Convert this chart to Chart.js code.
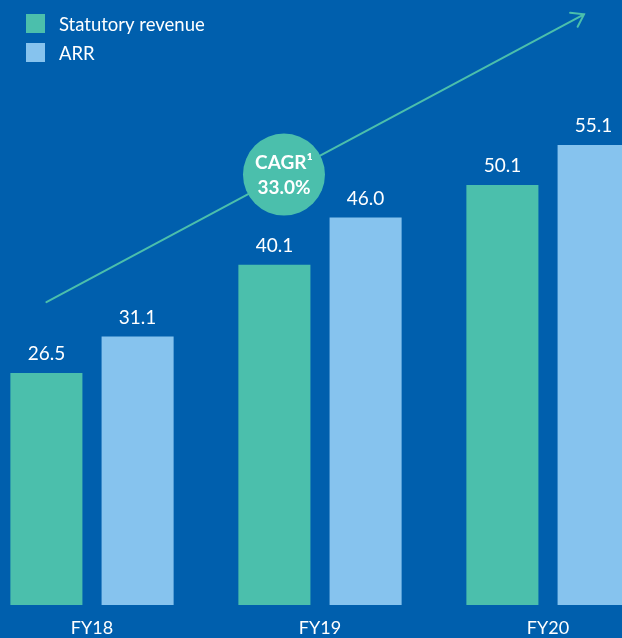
<!DOCTYPE html>
<html>
<head>
<meta charset="utf-8">
<script src="https://cdn.jsdelivr.net/npm/chart.js@4"></script>
<style>
  html, body { margin: 0; padding: 0; background: #005fad; overflow: hidden; }
  body { width: 622px; height: 638px; position: relative; }
  #wrap { position: absolute; left: -22px; top: 0; width: 684px; height: 638px; }
</style>
</head>
<body>
<div id="wrap"><canvas id="grafico"></canvas></div>
<script>
const categorias = ['FY18', 'FY19', 'FY20'];
const receita = [26.5, 40.1, 50.1];   // Statutory revenue
const arr = [31.1, 46.0, 55.1];       // ARR
const cagrTexto = ['CAGR\u00B9', '33.0%'];

const VERDE = '#4bbfac';
const AZUL_CLARO = '#86c3ee';
const BRANCO = '#ffffff';
const FONTE = 'Lato, "Open Sans", sans-serif';

// seta e circulo em coordenadas de dados (indice da categoria, valor)
const setaInicio = [-0.2, 35.4];
const setaFim = [2.158, 71.5];
const circulo = [0.842, 51.4];

const rotulosPlugin = {
  id: 'rotulos',
  afterDatasetsDraw(chart) {
    const c = chart.ctx;
    c.save();
    c.fillStyle = BRANCO;
    c.font = '19px ' + FONTE;
    c.textAlign = 'center';
    c.textBaseline = 'middle';
    chart.data.datasets.forEach((ds, i) => {
      chart.getDatasetMeta(i).data.forEach((bar, j) => {
        c.fillText(ds.data[j].toFixed(1), bar.x, bar.y - 19);
      });
    });
    c.restore();
  }
};

const setaPlugin = {
  id: 'seta',
  afterDraw(chart) {
    const c = chart.ctx;
    const x = chart.scales.x, y = chart.scales.y;
    const x0 = x.getPixelForValue(setaInicio[0]), y0 = y.getPixelForValue(setaInicio[1]);
    const x1 = x.getPixelForValue(setaFim[0]), y1 = y.getPixelForValue(setaFim[1]);
    c.save();
    c.strokeStyle = VERDE;
    c.lineWidth = 2;
    c.lineCap = 'round';
    c.beginPath();
    c.moveTo(x0, y0);
    c.lineTo(x1, y1);
    const ang = Math.atan2(y1 - y0, x1 - x0);
    const len = 14, abre = Math.PI / 5.2;
    c.moveTo(x1 - len * Math.cos(ang - abre), y1 - len * Math.sin(ang - abre));
    c.lineTo(x1, y1);
    c.lineTo(x1 - len * Math.cos(ang + abre), y1 - len * Math.sin(ang + abre));
    c.stroke();

    // circulo CAGR
    const cx = x.getPixelForValue(circulo[0]), cy = y.getPixelForValue(circulo[1]);
    c.fillStyle = VERDE;
    c.beginPath();
    c.arc(cx, cy, 41, 0, Math.PI * 2);
    c.fill();
    c.fillStyle = BRANCO;
    c.font = 'bold 19px ' + FONTE;
    c.textAlign = 'center';
    c.textBaseline = 'middle';
    c.fillText(cagrTexto[0], cx, cy - 12);
    c.fillText(cagrTexto[1], cx, cy + 13);

    // legenda
    c.textAlign = 'left';
    c.font = '18.5px ' + FONTE;
    chart.data.datasets.forEach((ds, i) => {
      const ly = 14 + i * 29;
      c.fillStyle = ds.backgroundColor;
      c.fillRect(48, ly, 19, 19);
      c.fillStyle = BRANCO;
      c.fillText(ds.label, 81, ly + 11);
    });
    c.restore();
  }
};

const ctx = document.getElementById('grafico');
let grafico = new Chart(ctx, {
  type: 'bar',
  data: {
    labels: categorias,
    datasets: [{
      label: 'Statutory revenue',
      data: receita,
      backgroundColor: VERDE,
      base: -2.6,
      categoryPercentage: 0.8,
      barPercentage: 0.79
    }, {
      label: 'ARR',
      data: arr,
      backgroundColor: AZUL_CLARO,
      base: -2.6,
      categoryPercentage: 0.8,
      barPercentage: 0.79
    }]
  },
  options: {
    responsive: true,
    maintainAspectRatio: false,
    animation: false,
    layout: { padding: 0 },
    plugins: {
      legend: { display: false },
      tooltip: { enabled: false }
    },
    scales: {
      x: {
        grid: { display: false, drawTicks: false },
        border: { display: false },
        ticks: {
          color: BRANCO,
          padding: 12,
          font: { family: FONTE, size: 18 }
        },
        afterFit(scale) { scale.height = 33; }
      },
      y: {
        display: false,
        min: -2.6,
        max: 73.3
      }
    }
  },
  plugins: [rotulosPlugin, setaPlugin]
});
</script>
</body>
</html>
